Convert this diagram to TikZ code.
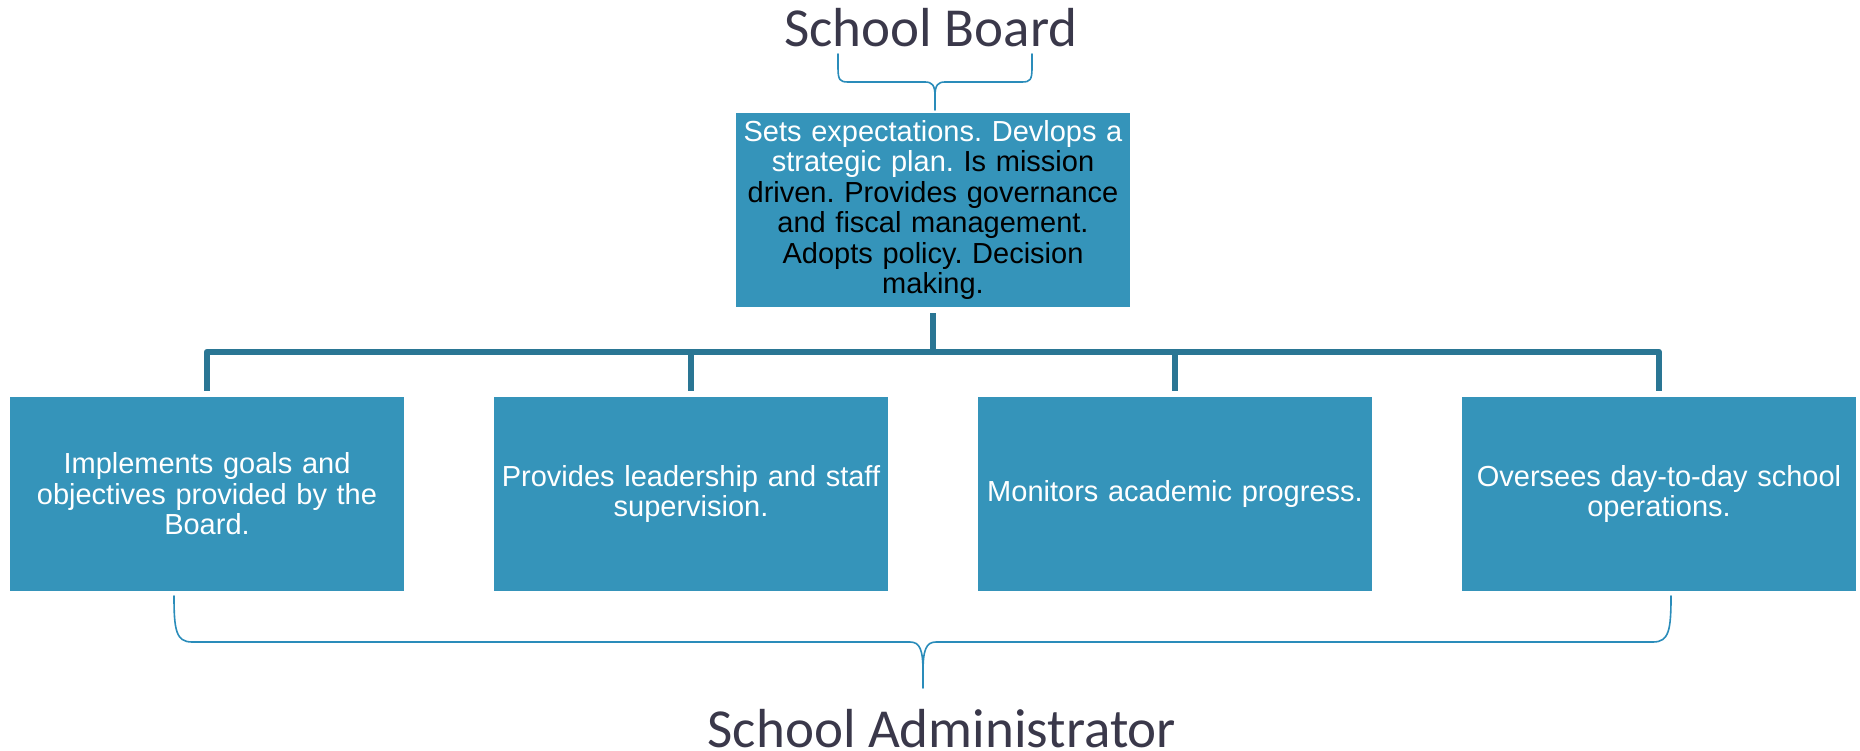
\documentclass[tikz,border=0pt]{standalone}
\usepackage{fontspec}
\setmainfont{Liberation Sans}
\newfontfamily\titlefont{Carlito}
\definecolor{boxfill}{RGB}{53,148,186}
\definecolor{connc}{RGB}{42,118,148}
\definecolor{bracec}{RGB}{42,140,186}
\definecolor{titlec}{RGB}{58,56,74}
\frenchspacing
\begin{document}
\begin{tikzpicture}[x=1pt,y=-1pt,
  box/.style={fill=boxfill, draw=none, minimum width=394pt, minimum height=194pt,
    inner sep=0pt, text width=392pt, align=center, text=white,
    font=\fontsize{29}{30.5}\selectfont\frenchspacing},
  title/.style={font=\titlefont\fontsize{55}{58}\selectfont, text=titlec, inner sep=0pt, anchor=base},
  conn/.style={draw=connc, line width=6pt, line join=round},
  bracestyle/.style={draw=bracec, line width=1.6pt, line cap=round}]
\useasboundingbox (0,0) rectangle (1860,751);

\node[title] (board) at (931,47) {School Board};
\node[title] (admin) at (942,747) {School Administrator};

\node[box, text=black] (top) at (933,210) {\textcolor{white}{Sets expectations. Devlops a}\\\textcolor{white}{strategic plan.} Is mission\\driven. Provides governance\\and fiscal management.\\Adopts policy. Decision\\making.};

\node[box] (b1) at (207,494) {Implements goals and\\objectives provided by the\\Board.};
\node[box] (b2) at (691,494) {Provides leadership and staff\\supervision.};
\node[box] (b3) at (1175,494) {Monitors academic progress.};
\node[box] (b4) at (1659,494) {Oversees day-to-day school\\operations.};

% connectors
\coordinate (busL) at ([yshift=45pt]b1.north);
\coordinate (busR) at ([yshift=45pt]b4.north);
\draw[conn] ([yshift=6pt]b1.north) -- (busL) -- (busR) -- ([yshift=6pt]b4.north);
\draw[conn] ([yshift=6pt]b2.north) -- ([yshift=45pt]b2.north);
\draw[conn] ([yshift=6pt]b3.north) -- ([yshift=45pt]b3.north);
\draw[conn] ([yshift=-6pt]top.south) -- (top.south |- busL);

% top brace
\coordinate (tbL) at (838,54);
\coordinate (tbR) at (1032,54);
\coordinate (tbT) at (935,110);
\draw[bracestyle] (tbL) -- (838,68) .. controls (838,80) and (840,82) .. (848,82)
  -- (925,82) .. controls (932,82) and (935,85) .. (935,96) -- (tbT);
\draw[bracestyle] (tbR) -- (1032,68) .. controls (1032,80) and (1030,82) .. (1022,82)
  -- (945,82) .. controls (938,82) and (935,85) .. (935,96);

% bottom brace
\coordinate (bbL) at (174,596);
\coordinate (bbR) at (1671,596);
\coordinate (bbT) at (923,688);
\draw[bracestyle] (bbL) .. controls (174,630) and (176,642) .. (192,642)
  -- (910,642) .. controls (920,642) and (923,650) .. (923,672) -- (bbT);
\draw[bracestyle] (bbR) .. controls (1671,630) and (1669,642) .. (1653,642)
  -- (936,642) .. controls (926,642) and (923,650) .. (923,672);
\end{tikzpicture}
\end{document}
